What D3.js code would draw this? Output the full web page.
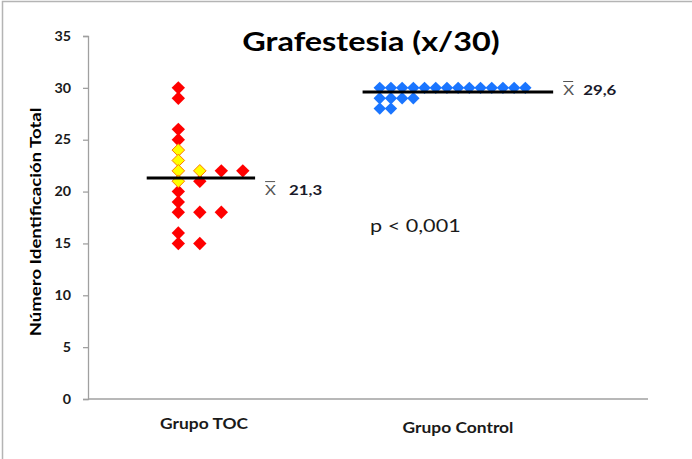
<!doctype html>
<html>
<head>
<meta charset="UTF-8">
<title>Grafestesia</title>
<script src="https://d3js.org/d3.v7.min.js"></script>
<style>
  body { margin: 0; background: #fff; }
  text { font-family: Lato, "Open Sans", sans-serif; }
</style>
</head>
<body>
<svg id="chart" width="692" height="459"></svg>
<script>
// data
var groups = ["Grupo TOC", "Grupo Control"];
var tocRed = [30, 29, 26, 25, 22, 22, 21, 20, 19, 18, 18, 18, 16, 15, 15];
var tocYellow = [24, 23, 22, 22, 21];
var control = [30, 30, 30, 30, 30, 30, 30, 30, 30, 30, 30, 30, 30, 30, 29, 29, 29, 29, 28, 28];
var means = [21.3, 29.6];
var meanLabels = ["21,3", "29,6"];
var yTicks = [0, 5, 10, 15, 20, 25, 30, 35];

var svg = d3.select("#chart");

// the original picture is stretched a bit horizontally, text too
var SX = 1.2;
function label(x, y, str, size, weight, fill, anchor) {
  return svg.append("text")
    .attr("transform", "translate(" + x + "," + y + ") scale(" + SX + ",1)")
    .attr("text-anchor", anchor || "start")
    .style("font-size", size + "px")
    .style("font-weight", weight)
    .attr("fill", fill)
    .text(str);
}

// frame (left + top edge visible)
svg.append("path")
  .attr("d", "M2.5,459 V1.5 H692")
  .attr("fill", "none")
  .attr("stroke", "#b4b4b4")
  .attr("stroke-width", 1.5);

var y = d3.scaleLinear().domain([0, 35]).range([399, 36]);
var x = d3.scaleLinear().domain([0, 6.2]).range([88, 648]);

// group base positions and column step (dot plot stacking)
var base = [1, 3.23];
var step = [0.238, 0.124];

// y axis
var yAxis = svg.append("g")
  .attr("transform", "translate(88,0)")
  .call(d3.axisLeft(y).tickValues(yTicks).tickSize(5));
yAxis.select(".domain").attr("stroke", "#a0a0a0").attr("stroke-width", 1.3);
yAxis.selectAll(".tick line").attr("stroke", "#a0a0a0").attr("stroke-width", 1.3);
yAxis.selectAll(".tick text")
  .attr("x", null)
  .attr("transform", "translate(-17,0) scale(1.1,1)")
  .style("font-family", "Lato, sans-serif")
  .style("font-size", "13px")
  .style("font-weight", "bold")
  .attr("fill", "#1a1a1a");

// x axis line
svg.append("line")
  .attr("x1", x(0)).attr("x2", x(6.2))
  .attr("y1", y(0)).attr("y2", y(0))
  .attr("stroke", "#a0a0a0").attr("stroke-width", 1.3);

// build stacked points: within each value, yellow first then red
function stack(seriesList, g) {
  var counts = {};
  var pts = [];
  seriesList.forEach(function (s) {
    s.values.forEach(function (v) {
      var c = counts[v] || 0;
      counts[v] = c + 1;
      pts.push({ v: v, col: c, g: g, fill: s.fill, stroke: s.stroke, r: s.r, top: s.top });
    });
  });
  return pts;
}

var points = stack([
  { values: tocYellow, fill: "#ffff00", stroke: "#ff7a00", r: 6.3, top: 1 },
  { values: tocRed, fill: "#ff0000", stroke: "none", r: 6.7, top: 0 }
], 0).concat(stack([
  { values: control, fill: "#1a75ff", stroke: "none", r: 6.2, top: 0 }
], 1));

// yellow ones drawn on top
points.sort(function (a, b) { return a.top - b.top; });

function diamond(r) {
  return "M0," + (-r) + "L" + r + ",0L0," + r + "L" + (-r) + ",0Z";
}

svg.append("g").selectAll("path")
  .data(points)
  .enter().append("path")
  .attr("transform", function (d) {
    return "translate(" + x(base[d.g] + d.col * step[d.g]) + "," + y(d.v) + ")";
  })
  .attr("d", function (d) { return diamond(d.r); })
  .attr("fill", function (d) { return d.fill; })
  .attr("stroke", function (d) { return d.stroke; })
  .attr("stroke-width", 1);

// mean lines
var meanSpan = [[0.65, 1.85], [3.04, 5.15]];
svg.append("g").selectAll("line")
  .data(means)
  .enter().append("line")
  .attr("x1", function (d, i) { return x(meanSpan[i][0]); })
  .attr("x2", function (d, i) { return x(meanSpan[i][1]); })
  .attr("y1", function (d) { return y(d); })
  .attr("y2", function (d) { return y(d); })
  .attr("stroke", "#000")
  .attr("stroke-width", 3);

// mean labels (x-bar + value)
var numGap = [24, 20];
means.forEach(function (m, i) {
  var lx = x(meanSpan[i][1]) + 10;
  var ly = y(m) + (i === 0 ? 17 : 3);
  label(lx, ly, "X", 14, "normal", "#555");
  svg.append("line")
    .attr("x1", lx).attr("x2", lx + 10)
    .attr("y1", ly - 13.5).attr("y2", ly - 13.5)
    .attr("stroke", "#555").attr("stroke-width", 1);
  label(lx + numGap[i], ly, meanLabels[i], 14, "bold", "#1a1a2a");
});

// title
label(371, 51, "Grafestesia (x/30)", 27, "bold", "#000", "middle");

// p value
label(370, 232, "p < 0,001", 18, "normal", "#1a1a1a");

// category labels
var catPos = [[204, 429], [458, 433]];
groups.forEach(function (g, i) {
  label(catPos[i][0], catPos[i][1], g, 14.5, "bold", "#1a1a1a", "middle");
});

// y axis title
svg.append("text")
  .attr("transform", "translate(41,222) rotate(-90) scale(1.2,1)")
  .attr("text-anchor", "middle")
  .style("font-size", "15.5px")
  .style("font-weight", "bold")
  .attr("fill", "#000")
  .text("Número Identificación Total");
</script>
</body>
</html>
